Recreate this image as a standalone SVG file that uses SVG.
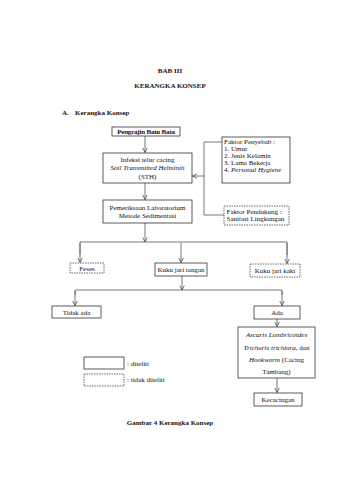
<svg xmlns="http://www.w3.org/2000/svg" width="340" height="480" viewBox="0 0 340 480">
<defs>
<marker id="ah" viewBox="0 0 8 8" refX="7" refY="4" markerWidth="6" markerHeight="6" orient="auto" markerUnits="userSpaceOnUse">
<path d="M1,1 L7,4 L1,7" fill="none" stroke="#444" stroke-width="1"/>
</marker>
<style>
text{font-family:"Liberation Serif","Times New Roman",serif;fill:#111;font-size:7px}
.b{font-weight:bold}
.c{text-anchor:middle}
.i{font-style:italic}
.box{fill:#fff;stroke:#333;stroke-width:0.8}
.dash{fill:#fff;stroke:#444;stroke-width:0.8;stroke-dasharray:1.5,1}
.ln{fill:none;stroke:#555;stroke-width:0.8}
.arr{fill:none;stroke:#555;stroke-width:0.8;marker-end:url(#ah)}
</style>
</defs>
<rect width="340" height="480" fill="#fff"/>
<text class="b c" x="170" y="73" font-size="7.5">BAB III</text>
<text class="b c" x="170" y="88" font-size="7.5">KERANGKA KONSEP</text>
<text class="b" x="62" y="115" font-size="7.5">A.</text>
<text class="b" x="75" y="115" font-size="7.5">Kerangka Konsep</text>

<g id="connectors">
<path class="arr" d="M145,136 V152.5"/>
<path class="ln" d="M222,142 H204 V215 H224"/>
<path class="arr" d="M204,176 H192.5"/>
<path class="arr" d="M145,183 V199.5"/>
<path class="arr" d="M145,223 V242"/>
<path class="ln" d="M80,255 V242 H287 V255"/>
<path class="arr" d="M80,243 V262.5"/>
<path class="arr" d="M181,243 V262.5"/>
<path class="arr" d="M287,243 V263.5"/>
<path class="arr" d="M182,276 V290"/>
<path class="ln" d="M75,295 V290 H282 V295"/>
<path class="arr" d="M75,291 V305.5"/>
<path class="arr" d="M282,291 V305.5"/>
<path class="arr" d="M277,319 V326.5"/>
<path class="arr" d="M277,378 V392.5"/>
</g>

<g id="pengrajin">
<rect class="box" x="112" y="127" width="68" height="9" stroke-width="1.2"/>
<text class="b c" x="146" y="134" font-size="6.5" letter-spacing="-0.2">Pengrajin Batu Bata</text>
</g>
<g id="infeksi">
<rect class="box" x="103" y="153" width="89" height="30"/>
<text class="c" x="147.5" y="162">Infeksi telur cacing</text>
<text class="c i" x="147.5" y="170">Soil Transmitted Helminth</text>
<text class="c" x="147.5" y="179">(STH)</text>
</g>
<g id="penyebab">
<rect class="box" x="222" y="137" width="68" height="46"/>
<text x="224" y="144">Faktor Penyebab :</text>
<text x="224" y="151">1. Umur</text>
<text x="224" y="158">2. Jenis Kelamin</text>
<text x="224" y="165">3. Lama Bekerja</text>
<text x="224" y="172">4. <tspan class="i">Personal Hygiene</tspan></text>
</g>
<g id="pemeriksaan">
<rect class="box" x="103" y="200" width="89" height="23"/>
<text class="c" x="147.5" y="210">Pemeriksaan Laboratorium</text>
<text class="c" x="147.5" y="217.5">Metode Sedimentasi</text>
</g>
<g id="pendukung">
<rect class="dash" x="224" y="206" width="65" height="19"/>
<text x="226.5" y="213.5">Faktor Pendukung :</text>
<text x="226.5" y="221">Sanitasi Lingkungan</text>
</g>
<g id="feses">
<rect class="dash" x="70" y="263" width="34" height="10"/>
<text class="c" x="87" y="270.5">Feses</text>
</g>
<g id="tangan">
<rect class="box" x="155" y="263" width="52" height="13"/>
<text class="c" x="181" y="271.5">Kuku jari tangan</text>
</g>
<g id="kaki">
<rect class="dash" x="250" y="264" width="50" height="13"/>
<text class="c" x="275" y="272.5">Kuku jari kaki</text>
</g>
<g id="tidakada">
<rect class="box" x="52" y="306" width="49" height="12"/>
<text class="c" x="76.5" y="314.5">Tidak ada</text>
</g>
<g id="ada">
<rect class="box" x="254" y="306" width="46" height="13"/>
<text class="c" x="277" y="314.5">Ada</text>
</g>
<g id="ascaris">
<rect class="box" x="238" y="327" width="77" height="51"/>
<text class="c i" x="276.5" y="337">Ascaris Lumbricoides</text>
<text class="c" x="276.5" y="349.5"><tspan class="i">Trichuris trichiura</tspan>, dan</text>
<text class="c" x="276.5" y="362"><tspan class="i">Hookworm</tspan> (Cacing</text>
<text class="c" x="276.5" y="374">Tambang)</text>
</g>
<g id="kecacingan">
<rect class="box" x="254" y="393" width="48" height="13"/>
<text class="c" x="278" y="401.5">Kecacingan</text>
</g>
<g id="legend">
<rect class="box" x="84" y="357" width="40" height="12" stroke-width="1.2"/>
<text x="127" y="365.5">: diteliti</text>
<rect class="dash" x="84" y="374" width="40" height="12" stroke-width="1"/>
<text x="127" y="382">: tidak diteliti</text>
</g>
<text class="b c" x="170" y="425" font-size="7">Gambar 4 Kerangka Konsep</text>
</svg>
